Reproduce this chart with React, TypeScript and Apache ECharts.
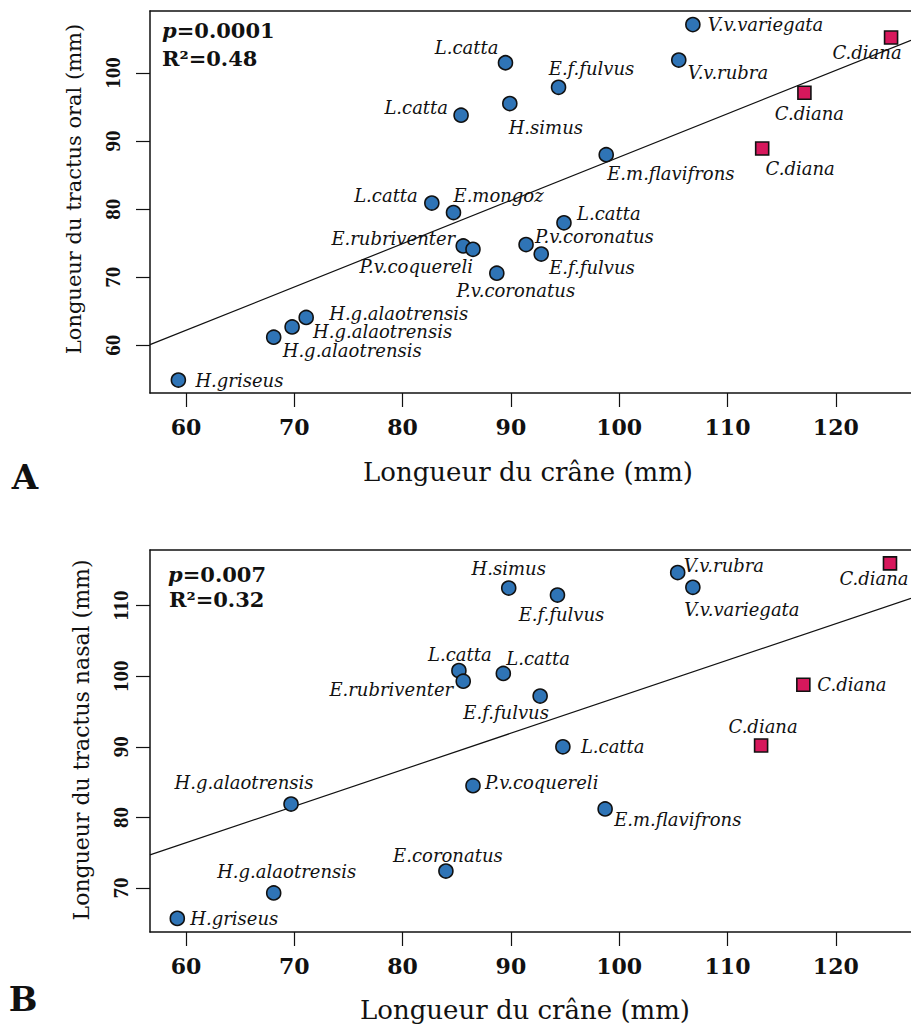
import React, { useEffect, useRef } from "react";
import * as echarts from "echarts";

// ---------- data ----------
const xTickValues = [60, 70, 80, 90, 100, 110, 120];
const yTickValuesA = [60, 70, 80, 90, 100];
const yTickValuesB = [70, 80, 90, 100, 110];

const xTitle = "Longueur du crâne (mm)";
const yTitleA = "Longueur du tractus oral (mm)";
const yTitleB = "Longueur du tractus nasal (mm)";

// Panel A : oral tract vs skull length (lemurs)
const lemurNamesA = [
  "H.griseus", "H.g.alaotrensis", "H.g.alaotrensis", "H.g.alaotrensis",
  "L.catta", "E.mongoz", "E.rubriventer", "P.v.coquereli", "P.v.coronatus",
  "P.v.coronatus", "E.f.fulvus", "L.catta", "L.catta", "L.catta", "H.simus",
  "E.f.fulvus", "E.m.flavifrons", "V.v.rubra", "V.v.variegata",
];
const lemurSkullA = [59.3, 68.1, 69.8, 71.1, 82.7, 84.7, 85.6, 86.5, 88.7, 91.4, 92.8, 94.9, 89.5, 85.4, 89.9, 94.4, 98.8, 105.5, 106.8];
const lemurOralA = [54.9, 61.2, 62.7, 64.1, 80.9, 79.5, 74.6, 74.1, 70.6, 74.8, 73.4, 78.0, 101.5, 93.8, 95.5, 97.9, 88.0, 101.9, 107.1];
const dianaNamesA = ["C.diana", "C.diana", "C.diana"];
const dianaSkullA = [113.2, 117.1, 125.1];
const dianaOralA = [88.9, 97.1, 105.2];
const fitA = [24.05, 0.636]; // intercept, slope
const statsA = ["0.0001", "0.48"]; // p, R2

// Panel B : nasal tract vs skull length
const lemurNamesB = [
  "H.griseus", "H.g.alaotrensis", "H.g.alaotrensis", "E.coronatus",
  "P.v.coquereli", "L.catta", "E.m.flavifrons", "H.simus", "E.f.fulvus",
  "V.v.rubra", "V.v.variegata", "L.catta", "E.rubriventer", "L.catta", "E.f.fulvus",
];
const lemurSkullB = [59.2, 68.1, 69.7, 84.0, 86.5, 94.8, 98.7, 89.8, 94.3, 105.4, 106.8, 85.2, 85.6, 89.3, 92.7];
const lemurNasalB = [65.7, 69.3, 81.9, 72.4, 84.5, 90.0, 81.2, 112.5, 111.5, 114.7, 112.6, 100.8, 99.3, 100.4, 97.2];
const dianaNamesB = ["C.diana", "C.diana", "C.diana"];
const dianaSkullB = [113.1, 117.0, 125.0];
const dianaNasalB = [90.2, 98.8, 116.0];
const fitB = [45.36, 0.5175];
const statsB = ["0.007", "0.32"];

// ---------- label placement (align, dx, dy in px from marker centre) ----------
const lemurLabelA: [string, number, number][] = [
  ["left", 17, 0], ["left", 9, 13], ["left", 21, 5], ["left", 23, -4],
  ["right", -14, -8], ["left", 0, -17], ["right", -8, -7], ["right", 0, 17],
  ["center", 19, 17], ["left", 9, -8], ["left", 8, 13], ["left", 13, -9],
  ["right", -7, -15], ["right", -13, -8], ["center", 36, 24], ["center", 33, -19],
  ["left", 1, 19], ["left", 9, 12], ["left", 15, 0],
];
const dianaLabelA: [string, number, number][] = [["center", 38, 20], ["center", 5, 21], ["center", -24, 15]];
const lemurLabelB: [string, number, number][] = [
  ["left", 13, 0], ["center", 13, -21], ["center", -47, -22], ["center", 2, -16],
  ["left", 12, -3], ["left", 18, 0], ["left", 9, 11], ["center", 0, -20],
  ["center", 4, 19], ["left", 6, -7], ["center", 49, 22], ["center", 1, -16],
  ["right", -10, 8], ["left", 3, -15], ["center", -34, 16],
];
const dianaLabelB: [string, number, number][] = [["center", 2, -19], ["left", 14, 0], ["center", -16, 15]];

// ---------- style ----------
const SERIF = "'DejaVu Serif', serif";
const BLUE = "#2f74b6";
const CRIMSON = "#d7185c";
const INK = "#111111";
const X_MIN = 56.68;
const X_MAX = 126.94;

function points(names: string[], xs: number[], ys: number[], lab: [string, number, number][]) {
  return names.map((n, i) => ({
    name: n,
    value: [xs[i], ys[i]],
    label: {
      show: true,
      position: ["50%", "50%"],
      align: lab[i][0],
      verticalAlign: "middle",
      offset: [lab[i][1], lab[i][2]],
    },
  }));
}

const pointLabel = {
  show: true,
  formatter: "{b}",
  fontFamily: SERIF,
  fontStyle: "italic",
  fontSize: 18,
  color: INK,
};

function panelAxes(gridIndex: number, yMin: number, yMax: number, yTicks: number[], yMargin: number) {
  const line = { show: true, lineStyle: { color: INK, width: 1.5 } };
  const bottom = {
    type: "value", gridIndex, position: "bottom", min: X_MIN, max: X_MAX,
    axisLine: line,
    axisTick: { show: true, length: 14, customValues: xTickValues, lineStyle: { color: INK, width: 1.2 } },
    axisLabel: { show: true, customValues: xTickValues, margin: 23, fontFamily: SERIF, fontWeight: "bold", fontSize: 22, color: INK },
    splitLine: { show: false },
  };
  const top = {
    type: "value", gridIndex, position: "top", min: X_MIN, max: X_MAX,
    axisLine: line, axisTick: { show: false }, axisLabel: { show: false }, splitLine: { show: false },
  };
  const left = {
    type: "value", gridIndex, position: "left", min: yMin, max: yMax,
    axisLine: line,
    axisTick: { show: true, length: 14, customValues: yTicks, lineStyle: { color: INK, width: 1.2 } },
    axisLabel: { show: true, customValues: yTicks, rotate: 90, margin: yMargin, fontFamily: "'Liberation Serif', serif", fontWeight: "bold", fontSize: 21, color: INK },
    splitLine: { show: false },
  };
  return { xs: [bottom, top], y: left };
}

function panelSeries(xIdx: number, yIdx: number, fit: number[], lemurs: any[], dianas: any[]) {
  return [
    {
      type: "line", xAxisIndex: xIdx, yAxisIndex: yIdx, silent: true, symbol: "none",
      lineStyle: { color: INK, width: 1.2 },
      data: [[X_MIN, fit[0] + fit[1] * X_MIN], [X_MAX, fit[0] + fit[1] * X_MAX]],
      z: 1,
    },
    {
      type: "scatter", xAxisIndex: xIdx, yAxisIndex: yIdx, symbol: "circle", symbolSize: 14,
      itemStyle: { color: BLUE, borderColor: INK, borderWidth: 1.6, opacity: 1 },
      label: pointLabel, data: lemurs, z: 3,
    },
    {
      type: "scatter", xAxisIndex: xIdx, yAxisIndex: yIdx, symbol: "rect", symbolSize: 13,
      itemStyle: { color: CRIMSON, borderColor: INK, borderWidth: 1.6, opacity: 1 },
      label: pointLabel, data: dianas, z: 3,
    },
  ];
}

function txt(text: string, x: number, y: number, size: number, weight: string, align: string, rotation = 0, rich?: any) {
  return {
    type: "text", x, y, rotation,
    style: {
      text, fontFamily: SERIF, fontSize: size, fontWeight: weight, fill: INK,
      textAlign: align, textVerticalAlign: "middle", rich,
    },
  };
}

export default function App() {
  const ref = useRef<HTMLDivElement>(null);
  useEffect(() => {
    if (!ref.current) return;
    const chart = echarts.init(ref.current, undefined, { renderer: "svg" });
    const a = panelAxes(0, 53.0, 109.1, yTickValuesA, 27);
    const b = panelAxes(1, 63.77, 117.89, yTickValuesB, 19);
    const pItalic = { p: { fontStyle: "italic", fontWeight: "bold", fontFamily: SERIF, fontSize: 21 } };
    chart.setOption({
      animation: false,
      backgroundColor: "#ffffff",
      grid: [
        { left: 150, top: 11, width: 761, height: 382 },
        { left: 150, top: 550, width: 761, height: 382 },
      ],
      xAxis: [...a.xs, ...b.xs],
      yAxis: [a.y, b.y],
      series: [
        ...panelSeries(0, 0, fitA,
          points(lemurNamesA, lemurSkullA, lemurOralA, lemurLabelA),
          points(dianaNamesA, dianaSkullA, dianaOralA, dianaLabelA)),
        ...panelSeries(2, 1, fitB,
          points(lemurNamesB, lemurSkullB, lemurNasalB, lemurLabelB),
          points(dianaNamesB, dianaSkullB, dianaNasalB, dianaLabelB)),
      ],
      graphic: [
        txt("{p|p}=" + statsA[0], 162, 30, 21, "bold", "left", 0, pItalic),
        txt("R²=" + statsA[1], 162, 58, 21, "bold", "left"),
        txt("{p|p}=" + statsB[0], 168, 574, 21, "bold", "left", 0, pItalic),
        txt("R²=" + statsB[1], 169, 599, 21, "bold", "left"),
        txt(yTitleA, 74, 189, 21, "normal", "center", Math.PI / 2),
        txt(yTitleB, 81, 740, 22, "normal", "center", Math.PI / 2),
        txt(xTitle, 528, 472, 26, "normal", "center"),
        txt(xTitle, 525, 1010, 26, "normal", "center"),
        txt("A", 25, 477, 34, "bold", "center"),
        txt("B", 23, 999, 34, "bold", "center"),
      ],
    });
    return () => chart.dispose();
  }, []);
  return (
    <div
      ref={ref}
      style={{ position: "absolute", left: 0, top: 0, width: 911, height: 1025, background: "#fff" }}
    />
  );
}
